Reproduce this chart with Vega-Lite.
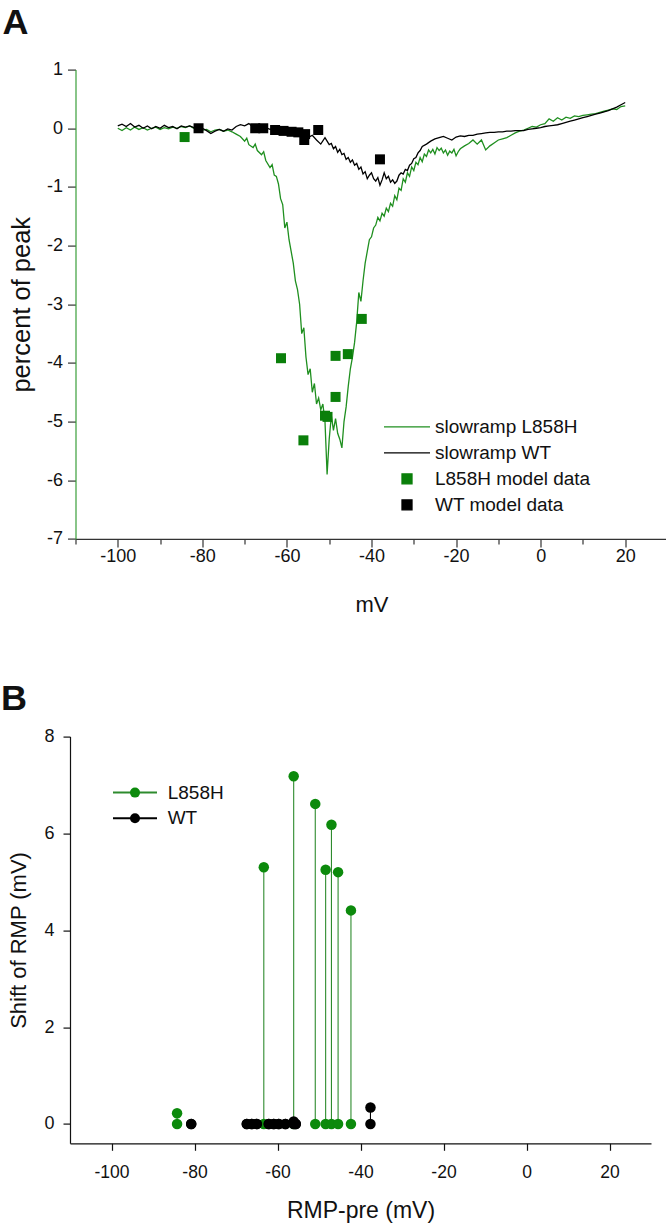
{
"$schema": "https://vega.github.io/schema/vega-lite/v6.json",
"background": "white",
"padding": {"left": 0, "top": 4.6, "right": 0, "bottom": 0},
"config": {
  "font": "Liberation Sans",
  "view": {"stroke": null},
  "axis": {"grid": false, "labelFont": "Liberation Sans", "titleFont": "Liberation Sans", "labelColor": "#111111", "titleColor": "#111111", "titleFontWeight": "normal", "labelOverlap": false, "labelFlush": false, "domainWidth": 1.2, "tickWidth": 1.2},
  "legend": {"labelFont": "Liberation Sans", "labelColor": "#111111", "labelLimit": 400}
},
"datasets": {
  "traces": [
    {"mV": -100, "pct": 0.0, "series": "slowramp L858H"},
    {"mV": -99, "pct": -0.04, "series": "slowramp L858H"},
    {"mV": -98, "pct": 0.01, "series": "slowramp L858H"},
    {"mV": -97, "pct": -0.03, "series": "slowramp L858H"},
    {"mV": -96, "pct": 0.02, "series": "slowramp L858H"},
    {"mV": -95, "pct": -0.02, "series": "slowramp L858H"},
    {"mV": -94, "pct": 0.01, "series": "slowramp L858H"},
    {"mV": -93, "pct": -0.03, "series": "slowramp L858H"},
    {"mV": -92, "pct": 0.0, "series": "slowramp L858H"},
    {"mV": -91, "pct": 0.02, "series": "slowramp L858H"},
    {"mV": -90, "pct": -0.02, "series": "slowramp L858H"},
    {"mV": -89, "pct": 0.01, "series": "slowramp L858H"},
    {"mV": -88, "pct": -0.01, "series": "slowramp L858H"},
    {"mV": -87, "pct": 0.02, "series": "slowramp L858H"},
    {"mV": -86, "pct": 0.0, "series": "slowramp L858H"},
    {"mV": -85, "pct": 0.03, "series": "slowramp L858H"},
    {"mV": -84, "pct": 0.01, "series": "slowramp L858H"},
    {"mV": -83, "pct": 0.04, "series": "slowramp L858H"},
    {"mV": -82, "pct": 0.0, "series": "slowramp L858H"},
    {"mV": -81, "pct": -0.01, "series": "slowramp L858H"},
    {"mV": -80, "pct": -0.03, "series": "slowramp L858H"},
    {"mV": -79, "pct": -0.02, "series": "slowramp L858H"},
    {"mV": -78, "pct": -0.06, "series": "slowramp L858H"},
    {"mV": -77, "pct": -0.03, "series": "slowramp L858H"},
    {"mV": -76, "pct": -0.02, "series": "slowramp L858H"},
    {"mV": -75, "pct": -0.05, "series": "slowramp L858H"},
    {"mV": -74, "pct": -0.03, "series": "slowramp L858H"},
    {"mV": -73, "pct": -0.06, "series": "slowramp L858H"},
    {"mV": -72, "pct": -0.1, "series": "slowramp L858H"},
    {"mV": -71, "pct": -0.14, "series": "slowramp L858H"},
    {"mV": -70, "pct": -0.22, "series": "slowramp L858H"},
    {"mV": -69.5, "pct": -0.17, "series": "slowramp L858H"},
    {"mV": -69, "pct": -0.28, "series": "slowramp L858H"},
    {"mV": -68, "pct": -0.33, "series": "slowramp L858H"},
    {"mV": -67.5, "pct": -0.27, "series": "slowramp L858H"},
    {"mV": -67, "pct": -0.38, "series": "slowramp L858H"},
    {"mV": -66, "pct": -0.45, "series": "slowramp L858H"},
    {"mV": -65.5, "pct": -0.4, "series": "slowramp L858H"},
    {"mV": -65, "pct": -0.55, "series": "slowramp L858H"},
    {"mV": -64, "pct": -0.67, "series": "slowramp L858H"},
    {"mV": -63.5, "pct": -0.62, "series": "slowramp L858H"},
    {"mV": -63, "pct": -0.8, "series": "slowramp L858H"},
    {"mV": -62.5, "pct": -0.82, "series": "slowramp L858H"},
    {"mV": -62, "pct": -0.95, "series": "slowramp L858H"},
    {"mV": -61.5, "pct": -1.2, "series": "slowramp L858H"},
    {"mV": -61, "pct": -1.3, "series": "slowramp L858H"},
    {"mV": -60.5, "pct": -1.7, "series": "slowramp L858H"},
    {"mV": -60, "pct": -1.6, "series": "slowramp L858H"},
    {"mV": -59.5, "pct": -1.9, "series": "slowramp L858H"},
    {"mV": -59, "pct": -2.1, "series": "slowramp L858H"},
    {"mV": -58.5, "pct": -2.3, "series": "slowramp L858H"},
    {"mV": -58, "pct": -2.6, "series": "slowramp L858H"},
    {"mV": -57.5, "pct": -2.75, "series": "slowramp L858H"},
    {"mV": -57, "pct": -3.0, "series": "slowramp L858H"},
    {"mV": -56.5, "pct": -3.5, "series": "slowramp L858H"},
    {"mV": -56, "pct": -3.4, "series": "slowramp L858H"},
    {"mV": -55.5, "pct": -3.9, "series": "slowramp L858H"},
    {"mV": -55, "pct": -4.2, "series": "slowramp L858H"},
    {"mV": -54.5, "pct": -4.1, "series": "slowramp L858H"},
    {"mV": -54, "pct": -4.5, "series": "slowramp L858H"},
    {"mV": -53.5, "pct": -4.35, "series": "slowramp L858H"},
    {"mV": -53, "pct": -4.7, "series": "slowramp L858H"},
    {"mV": -52.5, "pct": -4.6, "series": "slowramp L858H"},
    {"mV": -52, "pct": -4.8, "series": "slowramp L858H"},
    {"mV": -51.5, "pct": -4.7, "series": "slowramp L858H"},
    {"mV": -51, "pct": -5.0, "series": "slowramp L858H"},
    {"mV": -50.5, "pct": -5.9, "series": "slowramp L858H"},
    {"mV": -50, "pct": -5.3, "series": "slowramp L858H"},
    {"mV": -49.5, "pct": -4.9, "series": "slowramp L858H"},
    {"mV": -49, "pct": -5.15, "series": "slowramp L858H"},
    {"mV": -48.5, "pct": -4.95, "series": "slowramp L858H"},
    {"mV": -48, "pct": -5.2, "series": "slowramp L858H"},
    {"mV": -47.5, "pct": -5.3, "series": "slowramp L858H"},
    {"mV": -47, "pct": -5.45, "series": "slowramp L858H"},
    {"mV": -46.5, "pct": -5.0, "series": "slowramp L858H"},
    {"mV": -46, "pct": -4.75, "series": "slowramp L858H"},
    {"mV": -45.5, "pct": -4.4, "series": "slowramp L858H"},
    {"mV": -45, "pct": -4.1, "series": "slowramp L858H"},
    {"mV": -44.5, "pct": -3.9, "series": "slowramp L858H"},
    {"mV": -44, "pct": -3.65, "series": "slowramp L858H"},
    {"mV": -43.5, "pct": -3.3, "series": "slowramp L858H"},
    {"mV": -43, "pct": -2.8, "series": "slowramp L858H"},
    {"mV": -42.5, "pct": -2.95, "series": "slowramp L858H"},
    {"mV": -42, "pct": -2.6, "series": "slowramp L858H"},
    {"mV": -41.5, "pct": -2.3, "series": "slowramp L858H"},
    {"mV": -41, "pct": -2.1, "series": "slowramp L858H"},
    {"mV": -40.5, "pct": -1.9, "series": "slowramp L858H"},
    {"mV": -40, "pct": -1.85, "series": "slowramp L858H"},
    {"mV": -39.5, "pct": -1.7, "series": "slowramp L858H"},
    {"mV": -39, "pct": -1.65, "series": "slowramp L858H"},
    {"mV": -38.5, "pct": -1.52, "series": "slowramp L858H"},
    {"mV": -38, "pct": -1.58, "series": "slowramp L858H"},
    {"mV": -37.5, "pct": -1.45, "series": "slowramp L858H"},
    {"mV": -37, "pct": -1.5, "series": "slowramp L858H"},
    {"mV": -36.5, "pct": -1.36, "series": "slowramp L858H"},
    {"mV": -36, "pct": -1.42, "series": "slowramp L858H"},
    {"mV": -35.5, "pct": -1.28, "series": "slowramp L858H"},
    {"mV": -35, "pct": -1.33, "series": "slowramp L858H"},
    {"mV": -34.5, "pct": -1.15, "series": "slowramp L858H"},
    {"mV": -34, "pct": -1.22, "series": "slowramp L858H"},
    {"mV": -33.5, "pct": -1.02, "series": "slowramp L858H"},
    {"mV": -33, "pct": -1.06, "series": "slowramp L858H"},
    {"mV": -32.5, "pct": -0.86, "series": "slowramp L858H"},
    {"mV": -32, "pct": -0.92, "series": "slowramp L858H"},
    {"mV": -31.5, "pct": -0.76, "series": "slowramp L858H"},
    {"mV": -31, "pct": -0.82, "series": "slowramp L858H"},
    {"mV": -30.5, "pct": -0.66, "series": "slowramp L858H"},
    {"mV": -30, "pct": -0.72, "series": "slowramp L858H"},
    {"mV": -29.5, "pct": -0.58, "series": "slowramp L858H"},
    {"mV": -29, "pct": -0.62, "series": "slowramp L858H"},
    {"mV": -28.5, "pct": -0.5, "series": "slowramp L858H"},
    {"mV": -28, "pct": -0.57, "series": "slowramp L858H"},
    {"mV": -27.5, "pct": -0.44, "series": "slowramp L858H"},
    {"mV": -27, "pct": -0.48, "series": "slowramp L858H"},
    {"mV": -26.5, "pct": -0.37, "series": "slowramp L858H"},
    {"mV": -26, "pct": -0.42, "series": "slowramp L858H"},
    {"mV": -25.5, "pct": -0.36, "series": "slowramp L858H"},
    {"mV": -25, "pct": -0.44, "series": "slowramp L858H"},
    {"mV": -24.5, "pct": -0.33, "series": "slowramp L858H"},
    {"mV": -24, "pct": -0.38, "series": "slowramp L858H"},
    {"mV": -23.5, "pct": -0.34, "series": "slowramp L858H"},
    {"mV": -23, "pct": -0.42, "series": "slowramp L858H"},
    {"mV": -22.5, "pct": -0.37, "series": "slowramp L858H"},
    {"mV": -22, "pct": -0.46, "series": "slowramp L858H"},
    {"mV": -21.5, "pct": -0.39, "series": "slowramp L858H"},
    {"mV": -21, "pct": -0.42, "series": "slowramp L858H"},
    {"mV": -20.5, "pct": -0.36, "series": "slowramp L858H"},
    {"mV": -20, "pct": -0.47, "series": "slowramp L858H"},
    {"mV": -19.5, "pct": -0.4, "series": "slowramp L858H"},
    {"mV": -19, "pct": -0.35, "series": "slowramp L858H"},
    {"mV": -18, "pct": -0.3, "series": "slowramp L858H"},
    {"mV": -17, "pct": -0.26, "series": "slowramp L858H"},
    {"mV": -16, "pct": -0.2, "series": "slowramp L858H"},
    {"mV": -15, "pct": -0.27, "series": "slowramp L858H"},
    {"mV": -14, "pct": -0.2, "series": "slowramp L858H"},
    {"mV": -13, "pct": -0.37, "series": "slowramp L858H"},
    {"mV": -12, "pct": -0.3, "series": "slowramp L858H"},
    {"mV": -11, "pct": -0.25, "series": "slowramp L858H"},
    {"mV": -10, "pct": -0.2, "series": "slowramp L858H"},
    {"mV": -9, "pct": -0.18, "series": "slowramp L858H"},
    {"mV": -8, "pct": -0.16, "series": "slowramp L858H"},
    {"mV": -7, "pct": -0.12, "series": "slowramp L858H"},
    {"mV": -6, "pct": -0.08, "series": "slowramp L858H"},
    {"mV": -5, "pct": -0.05, "series": "slowramp L858H"},
    {"mV": -4, "pct": -0.03, "series": "slowramp L858H"},
    {"mV": -3, "pct": 0.0, "series": "slowramp L858H"},
    {"mV": -2, "pct": 0.03, "series": "slowramp L858H"},
    {"mV": -1, "pct": 0.02, "series": "slowramp L858H"},
    {"mV": 0, "pct": 0.06, "series": "slowramp L858H"},
    {"mV": 1, "pct": 0.08, "series": "slowramp L858H"},
    {"mV": 2, "pct": 0.16, "series": "slowramp L858H"},
    {"mV": 3, "pct": 0.12, "series": "slowramp L858H"},
    {"mV": 4, "pct": 0.18, "series": "slowramp L858H"},
    {"mV": 5, "pct": 0.14, "series": "slowramp L858H"},
    {"mV": 6, "pct": 0.19, "series": "slowramp L858H"},
    {"mV": 7, "pct": 0.17, "series": "slowramp L858H"},
    {"mV": 8, "pct": 0.21, "series": "slowramp L858H"},
    {"mV": 9, "pct": 0.2, "series": "slowramp L858H"},
    {"mV": 10, "pct": 0.22, "series": "slowramp L858H"},
    {"mV": 11, "pct": 0.23, "series": "slowramp L858H"},
    {"mV": 12, "pct": 0.24, "series": "slowramp L858H"},
    {"mV": 13, "pct": 0.25, "series": "slowramp L858H"},
    {"mV": 14, "pct": 0.27, "series": "slowramp L858H"},
    {"mV": 15, "pct": 0.29, "series": "slowramp L858H"},
    {"mV": 16, "pct": 0.31, "series": "slowramp L858H"},
    {"mV": 17, "pct": 0.33, "series": "slowramp L858H"},
    {"mV": 18, "pct": 0.32, "series": "slowramp L858H"},
    {"mV": 19, "pct": 0.37, "series": "slowramp L858H"},
    {"mV": 20, "pct": 0.38, "series": "slowramp L858H"},
    {"mV": -100, "pct": 0.04, "series": "slowramp WT"},
    {"mV": -99, "pct": 0.07, "series": "slowramp WT"},
    {"mV": -98, "pct": 0.03, "series": "slowramp WT"},
    {"mV": -97, "pct": 0.08, "series": "slowramp WT"},
    {"mV": -96, "pct": 0.02, "series": "slowramp WT"},
    {"mV": -95, "pct": 0.05, "series": "slowramp WT"},
    {"mV": -94, "pct": 0.0, "series": "slowramp WT"},
    {"mV": -93, "pct": 0.04, "series": "slowramp WT"},
    {"mV": -92, "pct": -0.01, "series": "slowramp WT"},
    {"mV": -91, "pct": 0.03, "series": "slowramp WT"},
    {"mV": -90, "pct": 0.0, "series": "slowramp WT"},
    {"mV": -89, "pct": 0.05, "series": "slowramp WT"},
    {"mV": -88, "pct": 0.01, "series": "slowramp WT"},
    {"mV": -87, "pct": 0.03, "series": "slowramp WT"},
    {"mV": -86, "pct": -0.01, "series": "slowramp WT"},
    {"mV": -85, "pct": 0.04, "series": "slowramp WT"},
    {"mV": -84, "pct": 0.02, "series": "slowramp WT"},
    {"mV": -83, "pct": 0.04, "series": "slowramp WT"},
    {"mV": -82, "pct": 0.01, "series": "slowramp WT"},
    {"mV": -81, "pct": 0.03, "series": "slowramp WT"},
    {"mV": -80, "pct": 0.0, "series": "slowramp WT"},
    {"mV": -79, "pct": -0.04, "series": "slowramp WT"},
    {"mV": -78, "pct": -0.09, "series": "slowramp WT"},
    {"mV": -77, "pct": -0.05, "series": "slowramp WT"},
    {"mV": -76, "pct": -0.02, "series": "slowramp WT"},
    {"mV": -75, "pct": -0.05, "series": "slowramp WT"},
    {"mV": -74, "pct": -0.01, "series": "slowramp WT"},
    {"mV": -73, "pct": -0.03, "series": "slowramp WT"},
    {"mV": -72, "pct": 0.03, "series": "slowramp WT"},
    {"mV": -71, "pct": 0.06, "series": "slowramp WT"},
    {"mV": -70, "pct": 0.04, "series": "slowramp WT"},
    {"mV": -69, "pct": 0.08, "series": "slowramp WT"},
    {"mV": -68, "pct": 0.02, "series": "slowramp WT"},
    {"mV": -67, "pct": 0.03, "series": "slowramp WT"},
    {"mV": -66, "pct": 0.0, "series": "slowramp WT"},
    {"mV": -65, "pct": 0.01, "series": "slowramp WT"},
    {"mV": -64, "pct": -0.02, "series": "slowramp WT"},
    {"mV": -63, "pct": 0.0, "series": "slowramp WT"},
    {"mV": -62, "pct": -0.03, "series": "slowramp WT"},
    {"mV": -61, "pct": -0.01, "series": "slowramp WT"},
    {"mV": -60, "pct": -0.04, "series": "slowramp WT"},
    {"mV": -59, "pct": -0.03, "series": "slowramp WT"},
    {"mV": -58, "pct": -0.06, "series": "slowramp WT"},
    {"mV": -57, "pct": -0.05, "series": "slowramp WT"},
    {"mV": -56, "pct": -0.1, "series": "slowramp WT"},
    {"mV": -55, "pct": -0.16, "series": "slowramp WT"},
    {"mV": -54, "pct": -0.12, "series": "slowramp WT"},
    {"mV": -53, "pct": -0.2, "series": "slowramp WT"},
    {"mV": -52, "pct": -0.27, "series": "slowramp WT"},
    {"mV": -51, "pct": -0.16, "series": "slowramp WT"},
    {"mV": -50.5, "pct": -0.22, "series": "slowramp WT"},
    {"mV": -50, "pct": -0.28, "series": "slowramp WT"},
    {"mV": -49.5, "pct": -0.26, "series": "slowramp WT"},
    {"mV": -49, "pct": -0.35, "series": "slowramp WT"},
    {"mV": -48.5, "pct": -0.31, "series": "slowramp WT"},
    {"mV": -48, "pct": -0.41, "series": "slowramp WT"},
    {"mV": -47.5, "pct": -0.36, "series": "slowramp WT"},
    {"mV": -47, "pct": -0.45, "series": "slowramp WT"},
    {"mV": -46.5, "pct": -0.43, "series": "slowramp WT"},
    {"mV": -46, "pct": -0.53, "series": "slowramp WT"},
    {"mV": -45.5, "pct": -0.5, "series": "slowramp WT"},
    {"mV": -45, "pct": -0.58, "series": "slowramp WT"},
    {"mV": -44.5, "pct": -0.54, "series": "slowramp WT"},
    {"mV": -44, "pct": -0.63, "series": "slowramp WT"},
    {"mV": -43.5, "pct": -0.6, "series": "slowramp WT"},
    {"mV": -43, "pct": -0.7, "series": "slowramp WT"},
    {"mV": -42.5, "pct": -0.66, "series": "slowramp WT"},
    {"mV": -42, "pct": -0.78, "series": "slowramp WT"},
    {"mV": -41.5, "pct": -0.74, "series": "slowramp WT"},
    {"mV": -41, "pct": -0.86, "series": "slowramp WT"},
    {"mV": -40.5, "pct": -0.8, "series": "slowramp WT"},
    {"mV": -40, "pct": -0.76, "series": "slowramp WT"},
    {"mV": -39.5, "pct": -0.86, "series": "slowramp WT"},
    {"mV": -39, "pct": -0.9, "series": "slowramp WT"},
    {"mV": -38.5, "pct": -0.84, "series": "slowramp WT"},
    {"mV": -38, "pct": -0.97, "series": "slowramp WT"},
    {"mV": -37.5, "pct": -0.88, "series": "slowramp WT"},
    {"mV": -37, "pct": -0.76, "series": "slowramp WT"},
    {"mV": -36.5, "pct": -0.86, "series": "slowramp WT"},
    {"mV": -36, "pct": -0.82, "series": "slowramp WT"},
    {"mV": -35.5, "pct": -0.92, "series": "slowramp WT"},
    {"mV": -35, "pct": -0.88, "series": "slowramp WT"},
    {"mV": -34.5, "pct": -0.94, "series": "slowramp WT"},
    {"mV": -34, "pct": -0.9, "series": "slowramp WT"},
    {"mV": -33.5, "pct": -0.8, "series": "slowramp WT"},
    {"mV": -33, "pct": -0.76, "series": "slowramp WT"},
    {"mV": -32.5, "pct": -0.78, "series": "slowramp WT"},
    {"mV": -32, "pct": -0.7, "series": "slowramp WT"},
    {"mV": -31.5, "pct": -0.72, "series": "slowramp WT"},
    {"mV": -31, "pct": -0.63, "series": "slowramp WT"},
    {"mV": -30.5, "pct": -0.6, "series": "slowramp WT"},
    {"mV": -30, "pct": -0.52, "series": "slowramp WT"},
    {"mV": -29.5, "pct": -0.5, "series": "slowramp WT"},
    {"mV": -29, "pct": -0.42, "series": "slowramp WT"},
    {"mV": -28.5, "pct": -0.38, "series": "slowramp WT"},
    {"mV": -28, "pct": -0.31, "series": "slowramp WT"},
    {"mV": -27, "pct": -0.27, "series": "slowramp WT"},
    {"mV": -26, "pct": -0.22, "series": "slowramp WT"},
    {"mV": -25, "pct": -0.18, "series": "slowramp WT"},
    {"mV": -24, "pct": -0.16, "series": "slowramp WT"},
    {"mV": -23, "pct": -0.14, "series": "slowramp WT"},
    {"mV": -22, "pct": -0.17, "series": "slowramp WT"},
    {"mV": -21, "pct": -0.2, "series": "slowramp WT"},
    {"mV": -20, "pct": -0.15, "series": "slowramp WT"},
    {"mV": -19, "pct": -0.13, "series": "slowramp WT"},
    {"mV": -18, "pct": -0.14, "series": "slowramp WT"},
    {"mV": -17, "pct": -0.12, "series": "slowramp WT"},
    {"mV": -16, "pct": -0.12, "series": "slowramp WT"},
    {"mV": -15, "pct": -0.1, "series": "slowramp WT"},
    {"mV": -14, "pct": -0.09, "series": "slowramp WT"},
    {"mV": -13, "pct": -0.08, "series": "slowramp WT"},
    {"mV": -12, "pct": -0.07, "series": "slowramp WT"},
    {"mV": -11, "pct": -0.07, "series": "slowramp WT"},
    {"mV": -10, "pct": -0.06, "series": "slowramp WT"},
    {"mV": -9, "pct": -0.06, "series": "slowramp WT"},
    {"mV": -8, "pct": -0.05, "series": "slowramp WT"},
    {"mV": -7, "pct": -0.05, "series": "slowramp WT"},
    {"mV": -6, "pct": -0.04, "series": "slowramp WT"},
    {"mV": -5, "pct": -0.04, "series": "slowramp WT"},
    {"mV": -4, "pct": -0.04, "series": "slowramp WT"},
    {"mV": -3, "pct": -0.02, "series": "slowramp WT"},
    {"mV": -2, "pct": -0.01, "series": "slowramp WT"},
    {"mV": -1, "pct": 0.0, "series": "slowramp WT"},
    {"mV": 0, "pct": 0.01, "series": "slowramp WT"},
    {"mV": 1, "pct": 0.03, "series": "slowramp WT"},
    {"mV": 2, "pct": 0.04, "series": "slowramp WT"},
    {"mV": 3, "pct": 0.05, "series": "slowramp WT"},
    {"mV": 4, "pct": 0.06, "series": "slowramp WT"},
    {"mV": 5, "pct": 0.08, "series": "slowramp WT"},
    {"mV": 6, "pct": 0.1, "series": "slowramp WT"},
    {"mV": 7, "pct": 0.12, "series": "slowramp WT"},
    {"mV": 8, "pct": 0.14, "series": "slowramp WT"},
    {"mV": 9, "pct": 0.16, "series": "slowramp WT"},
    {"mV": 10, "pct": 0.18, "series": "slowramp WT"},
    {"mV": 11, "pct": 0.2, "series": "slowramp WT"},
    {"mV": 12, "pct": 0.22, "series": "slowramp WT"},
    {"mV": 13, "pct": 0.24, "series": "slowramp WT"},
    {"mV": 14, "pct": 0.26, "series": "slowramp WT"},
    {"mV": 15, "pct": 0.28, "series": "slowramp WT"},
    {"mV": 16, "pct": 0.3, "series": "slowramp WT"},
    {"mV": 17, "pct": 0.33, "series": "slowramp WT"},
    {"mV": 18, "pct": 0.36, "series": "slowramp WT"},
    {"mV": 19, "pct": 0.4, "series": "slowramp WT"},
    {"mV": 20, "pct": 0.44, "series": "slowramp WT"}
  ],
  "model": [
    {"mV": -84.2, "pct": -0.15, "series": "L858H model data"},
    {"mV": -61.4, "pct": -3.92, "series": "L858H model data"},
    {"mV": -56.1, "pct": -5.32, "series": "L858H model data"},
    {"mV": -51.0, "pct": -4.9, "series": "L858H model data"},
    {"mV": -50.4, "pct": -4.92, "series": "L858H model data"},
    {"mV": -48.5, "pct": -3.88, "series": "L858H model data"},
    {"mV": -48.5, "pct": -4.58, "series": "L858H model data"},
    {"mV": -45.6, "pct": -3.85, "series": "L858H model data"},
    {"mV": -42.3, "pct": -3.25, "series": "L858H model data"},
    {"mV": -80.9, "pct": 0.0, "series": "WT model data"},
    {"mV": -67.5, "pct": 0.0, "series": "WT model data"},
    {"mV": -65.6, "pct": 0.0, "series": "WT model data"},
    {"mV": -62.8, "pct": -0.03, "series": "WT model data"},
    {"mV": -60.8, "pct": -0.045, "series": "WT model data"},
    {"mV": -58.9, "pct": -0.06, "series": "WT model data"},
    {"mV": -57.3, "pct": -0.07, "series": "WT model data"},
    {"mV": -55.7, "pct": -0.1, "series": "WT model data"},
    {"mV": -55.9, "pct": -0.2, "series": "WT model data"},
    {"mV": -52.6, "pct": -0.03, "series": "WT model data"},
    {"mV": -38.0, "pct": -0.53, "series": "WT model data"}
  ],
  "rmp": [
    {"cell": "L1", "group": "L858H", "stage": "pre", "pre": -84.2, "shift": 0},
    {"cell": "L1", "group": "L858H", "stage": "post", "pre": -84.2, "shift": 0.22},
    {"cell": "L2", "group": "L858H", "stage": "pre", "pre": -63.3, "shift": 0},
    {"cell": "L2", "group": "L858H", "stage": "post", "pre": -63.3, "shift": 5.3},
    {"cell": "L3", "group": "L858H", "stage": "pre", "pre": -56.1, "shift": 0},
    {"cell": "L3", "group": "L858H", "stage": "post", "pre": -56.1, "shift": 7.18},
    {"cell": "L4", "group": "L858H", "stage": "pre", "pre": -50.9, "shift": 0},
    {"cell": "L4", "group": "L858H", "stage": "post", "pre": -50.9, "shift": 6.61},
    {"cell": "L5", "group": "L858H", "stage": "pre", "pre": -48.4, "shift": 0},
    {"cell": "L5", "group": "L858H", "stage": "post", "pre": -48.4, "shift": 5.25},
    {"cell": "L6", "group": "L858H", "stage": "pre", "pre": -47.0, "shift": 0},
    {"cell": "L6", "group": "L858H", "stage": "post", "pre": -47.0, "shift": 6.18},
    {"cell": "L7", "group": "L858H", "stage": "pre", "pre": -45.4, "shift": 0},
    {"cell": "L7", "group": "L858H", "stage": "post", "pre": -45.4, "shift": 5.2},
    {"cell": "L8", "group": "L858H", "stage": "pre", "pre": -42.3, "shift": 0},
    {"cell": "L8", "group": "L858H", "stage": "post", "pre": -42.3, "shift": 4.41},
    {"cell": "W1", "group": "WT", "stage": "pre", "pre": -80.8, "shift": 0},
    {"cell": "W1", "group": "WT", "stage": "post", "pre": -80.8, "shift": 0},
    {"cell": "W2", "group": "WT", "stage": "pre", "pre": -67.4, "shift": 0},
    {"cell": "W2", "group": "WT", "stage": "post", "pre": -67.4, "shift": 0},
    {"cell": "W3", "group": "WT", "stage": "pre", "pre": -66.2, "shift": 0},
    {"cell": "W3", "group": "WT", "stage": "post", "pre": -66.2, "shift": 0},
    {"cell": "W4", "group": "WT", "stage": "pre", "pre": -65.0, "shift": 0},
    {"cell": "W4", "group": "WT", "stage": "post", "pre": -65.0, "shift": 0},
    {"cell": "W5", "group": "WT", "stage": "pre", "pre": -62.1, "shift": 0},
    {"cell": "W5", "group": "WT", "stage": "post", "pre": -62.1, "shift": 0},
    {"cell": "W6", "group": "WT", "stage": "pre", "pre": -60.9, "shift": 0},
    {"cell": "W6", "group": "WT", "stage": "post", "pre": -60.9, "shift": 0},
    {"cell": "W7", "group": "WT", "stage": "pre", "pre": -59.7, "shift": 0},
    {"cell": "W7", "group": "WT", "stage": "post", "pre": -59.7, "shift": 0},
    {"cell": "W8", "group": "WT", "stage": "pre", "pre": -58.1, "shift": 0},
    {"cell": "W8", "group": "WT", "stage": "post", "pre": -58.1, "shift": 0},
    {"cell": "W9", "group": "WT", "stage": "pre", "pre": -56.1, "shift": 0},
    {"cell": "W9", "group": "WT", "stage": "post", "pre": -56.1, "shift": 0.05},
    {"cell": "W10", "group": "WT", "stage": "pre", "pre": -55.6, "shift": 0},
    {"cell": "W10", "group": "WT", "stage": "post", "pre": -55.6, "shift": 0},
    {"cell": "W11", "group": "WT", "stage": "pre", "pre": -37.6, "shift": 0},
    {"cell": "W11", "group": "WT", "stage": "post", "pre": -37.6, "shift": 0.34}
  ]
},
"resolve": {
  "scale": {"color": "independent", "stroke": "independent", "fill": "independent"},
  "legend": {"color": "independent", "stroke": "independent", "fill": "independent"}
},
"concat": [
  {
    "resolve": {
      "scale": {"color": "independent"},
      "legend": {"color": "independent"}
    },
    "hconcat": [
      {"width": 1, "height": 1, "data": {"values": [{"k": 0}]}, "mark": {"type": "point", "opacity": 0}},
      {
        "width": 592, "height": 469.3,
        "title": {"text": "A", "anchor": "start", "frame": "bounds", "fontSize": 36, "fontWeight": "bold", "font": "Liberation Sans", "color": "#111111", "dx": -7, "offset": 19},
        "layer": [
          {
            "data": {"name": "traces"},
            "mark": {"type": "line", "strokeWidth": 1.3},
            "encoding": {
              "x": {"field": "mV", "type": "quantitative", "scale": {"domain": [-110, 30], "nice": false, "zero": false},
                "axis": {"title": "mV", "values": [-110,-100,-90,-80,-70,-60,-50,-40,-30,-20,-10,0,10,20,30], "labelExpr": "datum.value % 20 === 0 ? '' + datum.value : ''", "tickSize": {"condition": {"test": "datum.value % 20 === 0", "value": 8}, "value": 5}, "labelPadding": 1, "labelFontSize": 18, "titleFontSize": 22, "titlePadding": 28.4, "domainColor": "#333333", "tickColor": "#333333"}},
              "y": {"field": "pct", "type": "quantitative", "scale": {"domain": [-7, 1], "nice": false, "zero": false},
                "axis": {"title": "percent of peak", "values": [-7,-6.5,-6,-5.5,-5,-4.5,-4,-3.5,-3,-2.5,-2,-1.5,-1,-0.5,0,0.5,1], "labelExpr": "datum.value % 1 === 0 ? '' + datum.value : ''", "tickSize": {"condition": {"test": "datum.value % 1 === 0", "value": 8}, "value": 5}, "labelPadding": 5, "labelFontSize": 18, "titleFontSize": 25.5, "titlePadding": 12, "domainColor": "#3a9e3a", "tickColor": "#333333"}},
              "color": {"field": "series", "type": "nominal",
                "scale": {"domain": ["slowramp L858H", "slowramp WT", "L858H model data", "WT model data"], "range": ["#1f8f1f", "#000000", "#0a7f0a", "#000000"]},
                "legend": {"orient": "none", "legendX": 322, "legendY": 347.8, "title": null, "padding": 0, "symbolSize": 100, "symbolStrokeWidth": 1.3, "labelFontSize": 19, "labelOffset": 18.5, "rowPadding": 6,
                  "encode": {"symbols": {"update": {
                    "shape": {"signal": "indexof(datum.value, 'slowramp') === 0 ? 'M-4.6,0L4.6,0' : 'square'"},
                    "size": {"value": 100},
                    "fill": {"signal": "datum.value === 'L858H model data' ? '#0a7f0a' : (datum.value === 'WT model data' ? '#000000' : 'transparent')"},
                    "stroke": {"signal": "datum.value === 'slowramp L858H' ? '#1f8f1f' : (datum.value === 'slowramp WT' ? '#000000' : 'transparent')"},
                    "strokeWidth": {"value": 1.3},
                    "opacity": {"value": 1}
                  }}}}
              }
            }
          },
          {
            "data": {"name": "model"},
            "mark": {"type": "square", "size": 100, "opacity": 1, "filled": true},
            "encoding": {
              "x": {"field": "mV", "type": "quantitative"},
              "y": {"field": "pct", "type": "quantitative"},
              "color": {"field": "series", "type": "nominal"}
            }
          }
        ]
      }
    ],
    "spacing": 4.5,
    "bounds": "flush"
  },
  {
    "width": 581, "height": 406.7,
    "title": {"text": "B", "anchor": "start", "frame": "bounds", "fontSize": 36, "fontWeight": "bold", "font": "Liberation Sans", "color": "#111111", "dx": -7, "offset": 10},
    "data": {"name": "rmp"},
    "resolve": {
      "scale": {"stroke": "independent", "fill": "independent"},
      "legend": {"stroke": "independent", "fill": "independent"}
    },
    "layer": [
      {
        "mark": {"type": "line", "strokeWidth": 1.1},
        "encoding": {
          "x": {"field": "pre", "type": "quantitative", "scale": {"domain": [-110, 30], "nice": false, "zero": false},
            "axis": {"title": "RMP-pre (mV)", "values": [-100,-80,-60,-40,-20,0,20], "labelExpr": "'' + datum.value", "tickSize": 7, "labelPadding": 13, "labelFontSize": 17.5, "titleFontSize": 23, "titlePadding": 19, "domainColor": "#111111", "tickColor": "#111111"}},
          "y": {"field": "shift", "type": "quantitative", "scale": {"domain": [-0.4, 8], "nice": false, "zero": false},
            "axis": {"title": "Shift of RMP (mV)", "values": [0,2,4,6,8], "labelExpr": "'' + datum.value", "tickSize": 7, "labelPadding": 9, "labelFontSize": 18, "titleFontSize": 22, "titlePadding": 13, "domainColor": "#111111", "tickColor": "#111111"}},
          "detail": {"field": "cell", "type": "nominal"},
          "stroke": {"field": "group", "type": "nominal", "scale": {"range": ["#2e8b2e", "#000000"]},
            "legend": {"orient": "none", "legendX": 55.5, "legendY": 46.5, "title": null, "padding": 0, "symbolSize": 100, "symbolStrokeWidth": 2, "labelFontSize": 19, "labelOffset": 23.2, "rowPadding": 5.7,
              "encode": {"symbols": {"update": {
                "shape": {"value": "M-4.4,0L4.4,0"},
                "stroke": {"signal": "datum.value === 'L858H' ? '#1f968b' : '#000000'"},
                "fill": {"value": "transparent"},
                "strokeWidth": {"value": 2},
                "opacity": {"value": 1}
              }}}}
          }
        }
      },
      {
        "mark": {"type": "circle", "size": 110, "opacity": 1},
        "encoding": {
          "x": {"field": "pre", "type": "quantitative"},
          "y": {"field": "shift", "type": "quantitative"},
          "fill": {"field": "group", "type": "nominal", "scale": {"domain": ["L858H", "WT"], "range": ["#0c8a0c", "#000000"]},
            "legend": {"orient": "none", "legendX": 55.5, "legendY": 46.5, "title": null, "padding": 0, "symbolSize": 100, "symbolStrokeWidth": 0, "symbolType": "circle", "labelFontSize": 19, "labelOpacity": 0, "labelOffset": 23.2, "rowPadding": 5.7,
              "encode": {"symbols": {"update": {"size": {"value": 110}, "opacity": {"value": 1}}}}}
          }
        }
      }
    ]
  }
],
"columns": 1,
"spacing": 65
}
